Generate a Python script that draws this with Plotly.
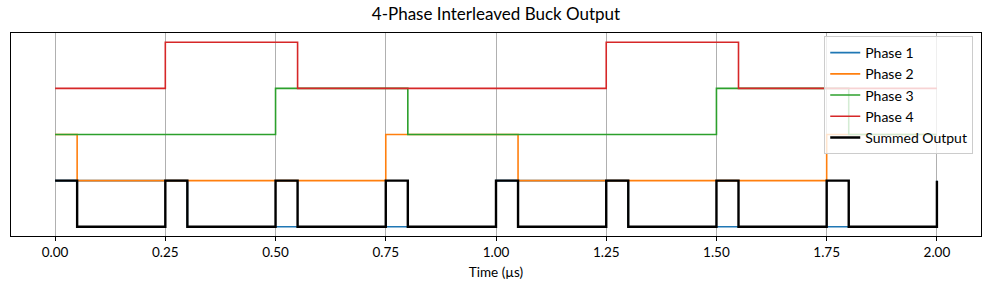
import plotly.graph_objects as go

# Step data (time in µs, logic level) — each value holds until the next time
p1_t = [0.0, 0.30, 1.00, 1.30, 2.00]
p1_v = [1, 0, 1, 0, 1]
p2_t = [0.0, 0.05, 0.75, 1.05, 1.75, 2.00]
p2_v = [1, 0, 1, 0, 1, 1]
p3_t = [0.0, 0.50, 0.80, 1.50, 1.80, 2.00]
p3_v = [0, 1, 0, 1, 0, 0]
p4_t = [0.0, 0.25, 0.55, 1.25, 1.55, 2.00]
p4_v = [0, 1, 0, 1, 0, 0]
sum_t = [0.0, 0.05, 0.25, 0.30, 0.50, 0.55, 0.75, 0.80, 1.00, 1.05,
         1.25, 1.30, 1.50, 1.55, 1.75, 1.80, 2.00]
sum_v = [1, 0, 1, 0, 1, 0, 1, 0, 1, 0, 1, 0, 1, 0, 1, 0, 1]

names = ["Phase 1", "Phase 2", "Phase 3", "Phase 4"]
offsets = [0, 1, 2, 3]
tick_vals = [0.0, 0.25, 0.5, 0.75, 1.0, 1.25, 1.5, 1.75, 2.0]
tick_text = ["0.00", "0.25", "0.50", "0.75", "1.00", "1.25", "1.50", "1.75", "2.00"]

colors = ["#1f77b4", "#ff7f0e", "#2ca02c", "#d62728"]
series = [(p1_t, p1_v), (p2_t, p2_v), (p3_t, p3_v), (p4_t, p4_v)]

fig = go.Figure()
for (t, v), name, off, c in zip(series, names, offsets, colors):
    fig.add_trace(go.Scatter(x=t, y=[val + off for val in v], mode="lines",
                             line=dict(color=c, width=1.6, shape="hv"), name=name))
fig.add_trace(go.Scatter(x=sum_t, y=sum_v, mode="lines",
                         line=dict(color="black", width=2.4, shape="hv"),
                         name="Summed Output"))

font = "Lato, 'DejaVu Sans', sans-serif"
fig.update_layout(
    width=989, height=290,
    margin=dict(l=11, r=8, t=33, b=54),
    plot_bgcolor="white", paper_bgcolor="white",
    font=dict(family=font, size=13.5, color="black"),
    title=dict(text="4-Phase Interleaved Buck Output", x=0.5, xref="paper",
               xanchor="center", y=1, yref="container", yanchor="top", pad=dict(t=8),
               font=dict(size=17, color="black")),
    xaxis=dict(range=[-0.1, 2.1], tickvals=tick_vals, ticktext=tick_text,
               showgrid=True, gridcolor="#b0b0b0", gridwidth=1,
               showline=True, linecolor="black", linewidth=1, mirror=True,
               ticks="outside", ticklen=4, tickcolor="black",
               tickfont=dict(size=13.5),
               title=dict(text="Time (µs)", font=dict(size=13.5), standoff=8),
               zeroline=False),
    yaxis=dict(range=[-0.2, 4.2], showticklabels=False, showgrid=False,
               showline=True, linecolor="black", linewidth=1, mirror=True,
               ticks="", zeroline=False),
    legend=dict(x=0.992, y=0.985, xanchor="right", yanchor="top",
                bgcolor="rgba(255,255,255,0.8)", bordercolor="#cccccc", borderwidth=1,
                font=dict(size=14), itemwidth=30),
    showlegend=True,
)
fig.write_html("out.html")
